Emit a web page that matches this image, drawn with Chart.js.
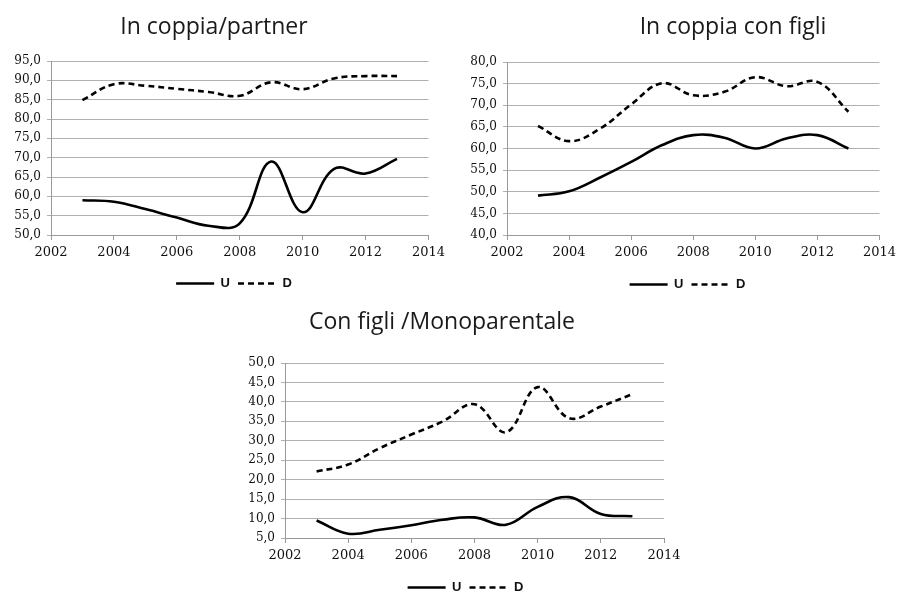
<!DOCTYPE html>
<html>
<head>
<meta charset="utf-8">
<script src="https://cdn.jsdelivr.net/npm/chart.js@4/dist/chart.umd.min.js"></script>
<style>
html,body{margin:0;padding:0;background:#fff;overflow:hidden;width:901px;height:592px;position:relative}
canvas{position:absolute}
.ttl{position:absolute;font-family:"Open Sans",sans-serif;font-size:23px;line-height:23px;color:#1a1a1a;white-space:nowrap;transform:translateX(-50%)}
</style>
</head>
<body>
<canvas id="c1" width="450" height="300" style="left:0;top:0"></canvas>
<canvas id="c2" width="451" height="301" style="left:450px;top:0"></canvas>
<canvas id="c3" width="500" height="304" style="left:200px;top:300px"></canvas>
<div class="ttl" id="t1" style="left:214px;top:14px"></div>
<div class="ttl" id="t2" style="left:733px;top:14px"></div>
<div class="ttl" id="t3" style="left:442px;top:309px"></div>
<script>
// ---- data ----
const years = [2003, 2004, 2005, 2006, 2007, 2008, 2009, 2010, 2011, 2012, 2013];
const seriesNames = ['U', 'D'];
const titles = ['In coppia/partner', 'In coppia con figli', 'Con figli /Monoparentale'];
const xTicks = [2002, 2004, 2006, 2008, 2010, 2012, 2014];

const coppiaU = [59.0, 58.6, 56.7, 54.5, 52.4, 53.0, 69.0, 55.9, 67.1, 65.9, 69.7];
const coppiaD = [84.9, 89.0, 88.6, 87.8, 87.0, 86.0, 89.5, 87.7, 90.5, 91.1, 91.1];
const yTicksCoppia = [50, 55, 60, 65, 70, 75, 80, 85, 90, 95];

const figliU = [49.1, 50.1, 53.3, 56.9, 60.8, 63.1, 62.5, 60.0, 62.3, 63.1, 60.0];
const figliD = [65.2, 61.7, 64.6, 70.2, 75.1, 72.3, 73.1, 76.5, 74.4, 75.4, 68.5];
const yTicksFigli = [40, 45, 50, 55, 60, 65, 70, 75, 80];

const monoU = [9.5, 6.1, 7.1, 8.3, 9.7, 10.3, 8.4, 13.0, 15.5, 11.2, 10.6];
const monoD = [22.1, 23.9, 28.1, 31.6, 35.0, 39.4, 32.2, 43.8, 35.8, 38.8, 42.0];
const yTicksMono = [5, 10, 15, 20, 25, 30, 35, 40, 45, 50];

// ---- builder ----
const LINE_W = 2.6;
const DASH = [6, 4];
function pts(arr) { return years.map((y, i) => ({ x: y, y: arr[i] })); }

function legendLabels(chart) {
  return Chart.defaults.plugins.legend.labels.generateLabels(chart).map((it, i) => {
    const ds = chart.data.datasets[i];
    return Object.assign({}, it, {
      lineDash: ds.borderDash || [],
      lineWidth: LINE_W,
      strokeStyle: ds.borderColor,
      fillStyle: ds.borderColor
    });
  });
}

function build(id, u, d, yTicks, lay) {
  return new Chart(document.getElementById(id), {
    type: 'line',
    data: {
      datasets: [
        { label: seriesNames[0], data: pts(u), borderColor: '#000', backgroundColor: '#000',
          borderWidth: LINE_W, pointRadius: 0, tension: 0.4, fill: false },
        { label: seriesNames[1], data: pts(d), borderColor: '#000', backgroundColor: '#000',
          borderWidth: LINE_W, borderDash: DASH, pointRadius: 0, tension: 0.4, fill: false }
      ]
    },
    options: {
      responsive: false, animation: false, devicePixelRatio: 1,
      layout: { padding: { left: lay.l, right: lay.r, top: lay.t, bottom: 0 } },
      plugins: {
        title: { display: false },
        tooltip: { enabled: false },
        legend: {
          position: 'bottom',
          labels: {
            usePointStyle: true, pointStyle: 'line', pointStyleWidth: 38, padding: 8,
            generateLabels: legendLabels,
            color: '#111', font: { family: 'Liberation Sans', size: 13, weight: 'bold' }
          }
        }
      },
      scales: {
        x: {
          type: 'linear', min: xTicks[0], max: xTicks[xTicks.length - 1],
          afterBuildTicks: s => { s.ticks = xTicks.map(v => ({ value: v })); },
          afterFit: s => { s.height = lay.xh; },
          grid: { drawOnChartArea: false, drawTicks: true, tickLength: 5, color: '#999' },
          border: { color: '#999', width: 1 },
          ticks: { padding: 5, color: '#111', maxRotation: 0, autoSkip: false,
                   font: { family: 'DejaVu Serif', size: 13 }, callback: v => String(v) }
        },
        y: {
          min: yTicks[0], max: yTicks[yTicks.length - 1],
          afterBuildTicks: s => { s.ticks = yTicks.map(v => ({ value: v })); },
          afterFit: s => { s.width = lay.yw; s._computeLabelArea = () => undefined; },
          grid: { color: '#b0b0b0', tickLength: 4, drawTicks: true },
          border: { color: '#999', width: 1 },
          ticks: { padding: 6, color: '#111',
                   font: { family: 'DejaVu Serif', size: 12 },
                   callback: v => Number(v).toFixed(1).replace('.', ',') }
        }
      }
    }
  });
}

document.getElementById('t1').textContent = titles[0];
document.getElementById('t2').textContent = titles[1];
document.getElementById('t3').textContent = titles[2];

build('c1', coppiaU, coppiaD, yTicksCoppia, { l: 37, r: 19, t: 61, xh: 34, yw: 14 });
build('c2', figliU, figliD, yTicksFigli, { l: 40, r: 16, t: 62, xh: 35, yw: 17 });
build('c3', monoU, monoD, yTicksMono, { l: 67, r: 36, t: 63, xh: 35, yw: 18 });
</script>
</body>
</html>
